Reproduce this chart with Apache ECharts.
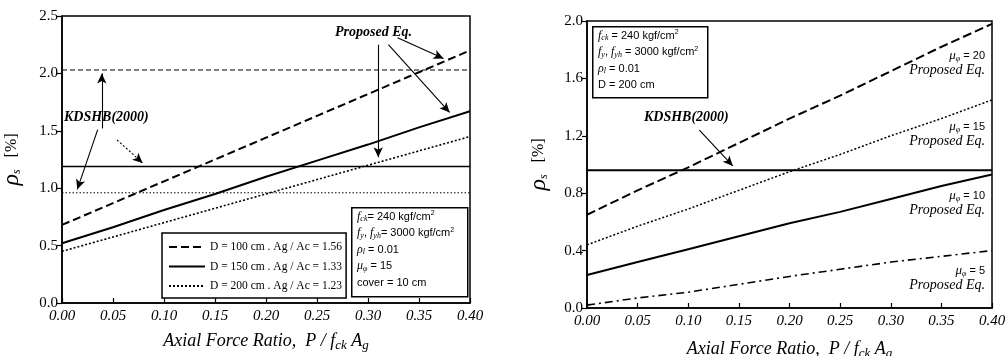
<!DOCTYPE html>
<html><head><meta charset="utf-8">
<script src="https://cdn.jsdelivr.net/npm/echarts@6/dist/echarts.min.js"></script>
<style>html,body{margin:0;padding:0;background:#fff}#c{width:1007px;height:356px}</style>
</head><body><div id="c"></div>
<script>
// ---- data ----
const xRatio = [0.00, 0.05, 0.10, 0.15, 0.20, 0.25, 0.30, 0.35, 0.40];
const xTicks = ['0.00','0.05','0.10','0.15','0.20','0.25','0.30','0.35','0.40'];
// left panel: proposed equation, mu_phi = 15
const d100 = [0.68, 0.87, 1.06, 1.25, 1.44, 1.63, 1.82, 2.01, 2.20];
const d150 = [0.52, 0.66, 0.81, 0.95, 1.10, 1.24, 1.38, 1.53, 1.67];
const d200 = [0.45, 0.575, 0.70, 0.825, 0.95, 1.075, 1.20, 1.325, 1.45];
// left panel: KDSHB(2000) constant values
const kdshbD100 = 2.03, kdshbD150 = 1.19, kdshbD200 = 0.96;
// right panel: proposed equation, D = 200 cm
const mu20 = [0.65, 0.82, 0.98, 1.15, 1.32, 1.48, 1.65, 1.82, 1.98];
const mu15 = [0.44, 0.57, 0.69, 0.82, 0.95, 1.07, 1.20, 1.32, 1.45];
const mu10 = [0.23, 0.32, 0.41, 0.50, 0.59, 0.67, 0.76, 0.85, 0.93];
const mu5  = [0.02, 0.07, 0.11, 0.165, 0.22, 0.27, 0.32, 0.36, 0.40];
const kdshbRight = 0.96;
const legendNames = ['D = 100 cm . Ag / Ac = 1.56', 'D = 150 cm . Ag / Ac = 1.33', 'D = 200 cm . Ag / Ac = 1.23'];

const SERIF = '"Liberation Serif","DejaVu Serif",serif';
const SANS = '"Liberation Sans","DejaVu Sans",sans-serif';
const pairs = ys => xRatio.map((x, i) => [x, ys[i]]);
const flat = v => [[xRatio[0], v], [xRatio[xRatio.length - 1], v]];

const chart = echarts.init(document.getElementById('c'));

function xAxisCfg(gi, gap) {
  return {
    gridIndex: gi, type: 'value', min: 0, max: 0.4, interval: 0.05,
    axisLine: {lineStyle: {color: '#000', width: 1.5}},
    axisTick: {inside: true, length: 5, lineStyle: {color: '#000', width: 1.2}},
    splitLine: {show: false},
    axisLabel: {color: '#000', fontFamily: SERIF, fontStyle: 'italic', fontSize: 15, margin: 6,
      formatter: v => xTicks[Math.round(v / 0.05)]},
    name: '{n|Axial Force Ratio,  P / f}{sub|ck}{n| A}{sub|g}',
    nameLocation: 'middle', nameGap: gap,
    nameTextStyle: {rich: {
      n: {fontFamily: SERIF, fontStyle: 'italic', fontSize: 18, color: '#000'},
      sub: {fontFamily: SERIF, fontStyle: 'italic', fontSize: 13, color: '#000', verticalAlign: 'bottom', padding: [8, 0, 0, 0]}
    }}
  };
}
function yAxisCfg(gi, max, interval, gap) {
  return {
    gridIndex: gi, type: 'value', min: 0, max: max, interval: interval,
    axisLine: {lineStyle: {color: '#000', width: 1.5}},
    axisTick: {inside: false, length: 5, lineStyle: {color: '#000', width: 1.2}},
    splitLine: {show: false},
    axisLabel: {color: '#000', fontFamily: SERIF, fontSize: 15, margin: 4, formatter: v => v.toFixed(1)},
    name: '{r|ρ}{s|s}{n|   [%]}', nameLocation: 'middle', nameGap: gap, nameRotate: 90,
    nameTextStyle: {rich: {
      r: {fontFamily: SERIF, fontStyle: 'italic', fontSize: 24, color: '#000'},
      s: {fontFamily: SERIF, fontStyle: 'italic', fontSize: 12, color: '#000', padding: [10, 0, 0, 0]},
      n: {fontFamily: SERIF, fontSize: 16, color: '#000'}
    }}
  };
}
function line(name, gi, data, width, type) {
  return {name, type: 'line', xAxisIndex: gi, yAxisIndex: gi, data, symbol: 'none', silent: true,
    lineStyle: {color: '#000', width, type}, itemStyle: {color: '#000'}, z: 3};
}
function arrows(gi, segs, type) {
  return {type: 'line', xAxisIndex: gi, yAxisIndex: gi, data: [], silent: true,
    markLine: {silent: true, symbol: ['none', 'arrow'], symbolSize: [7, 10], label: {show: false},
      lineStyle: {color: '#000', width: 1.1, type: type || 'solid'},
      data: segs.map(s => [{coord: s[0]}, {coord: s[1]}])}};
}

function paramBox(x, y, w, h, lines, lh) {
  const rich = {
    t: {fontFamily: SANS, fontSize: 11, color: '#000', lineHeight: lh},
    i: {fontFamily: SERIF, fontStyle: 'italic', fontSize: 12, color: '#000', lineHeight: lh},
    b: {fontFamily: SERIF, fontStyle: 'italic', fontSize: 8, color: '#000', lineHeight: lh, padding: [5, 0, 0, 0]},
    sup: {fontFamily: SANS, fontSize: 7, color: '#000', lineHeight: lh, padding: [0, 0, 6, 0]}
  };
  return [{type: 'rect', left: x, top: y, shape: {width: w, height: h}, style: {fill: '#fff', stroke: '#000', lineWidth: 1.5}, z: 10},
    {type: 'text', left: x + 6, top: y + 3, z: 11, style: {text: lines.join('\n'), rich}}];
}

const muLabel = (x, y, n) => ({type: 'text', z: 11, x: x, y: y, style: {
  text: '{m|μ}{p|φ}{t| = ' + n + '}\n{e|Proposed Eq.}', align: 'right', verticalAlign: 'top',
  rich: {
    m: {fontFamily: SERIF, fontStyle: 'italic', fontSize: 13, color: '#000', lineHeight: 15},
    p: {fontFamily: SERIF, fontStyle: 'italic', fontSize: 8, color: '#000', padding: [6, 0, 0, 0], lineHeight: 15},
    t: {fontFamily: SANS, fontSize: 11, color: '#000', lineHeight: 15},
    e: {fontFamily: SERIF, fontStyle: 'italic', fontSize: 14, color: '#000', lineHeight: 15}
  }}});

chart.setOption({
  backgroundColor: '#fff',
  animation: false,
  grid: [
    {left: 62, right: 537, top: 16, bottom: 53, show: true, borderColor: '#000', borderWidth: 1.5, containLabel: false, outerBoundsMode: 'none'},
    {left: 587, right: 15, top: 21, bottom: 48, show: true, borderColor: '#000', borderWidth: 1.5, containLabel: false, outerBoundsMode: 'none'}
  ],
  xAxis: [xAxisCfg(0, 28), xAxisCfg(1, 31)],
  yAxis: [yAxisCfg(0, 2.5, 0.5, 38), yAxisCfg(1, 2.0, 0.4, 36)],
  legend: {
    data: legendNames, left: 162, top: 233, orient: 'vertical', selectedMode: false,
    backgroundColor: '#fff', borderColor: '#000', borderWidth: 1.5, padding: [8, 4, 6, 6],
    itemWidth: 36, itemHeight: 12, itemGap: 7.5,
    itemStyle: {opacity: 0},
    textStyle: {fontFamily: SERIF, fontSize: 11.5, color: '#000'}
  },
  series: [
    line(legendNames[0], 0, pairs(d100), 2, [8, 4]),
    line(legendNames[1], 0, pairs(d150), 2, 'solid'),
    line(legendNames[2], 0, pairs(d200), 1.6, [2, 2]),
    line('KDSHB D100', 0, flat(kdshbD100), 1.1, [5, 3]),
    line('KDSHB D150', 0, flat(kdshbD150), 1.5, 'solid'),
    line('KDSHB D200', 0, flat(kdshbD200), 1, [1.5, 2]),
    line('mu20', 1, pairs(mu20), 2, [9, 4]),
    line('mu15', 1, pairs(mu15), 1.5, [2, 2]),
    line('mu10', 1, pairs(mu10), 2, 'solid'),
    line('mu5', 1, pairs(mu5), 1.6, [8, 4, 2, 4]),
    line('KDSHB right', 1, flat(kdshbRight), 2, 'solid'),
    arrows(0, [
      [[0.329, 2.31], [0.374, 2.13]],
      [[0.320, 2.25], [0.380, 1.66]],
      [[0.310, 2.25], [0.310, 1.27]],
      [[0.039, 1.52], [0.039, 2.00]],
      [[0.035, 1.51], [0.015, 0.99]]
    ]),
    arrows(0, [[[0.054, 1.42], [0.079, 1.22]]], [2, 2]),
    arrows(1, [[[0.111, 1.24], [0.144, 0.99]]])
  ],
  graphic: [
    {type: 'text', z: 11, left: 335, top: 25, style: {text: 'Proposed Eq.', fontFamily: SERIF, fontStyle: 'italic', fontWeight: 'bold', fontSize: 14, fill: '#000'}},
    {type: 'text', z: 11, left: 64, top: 110, style: {text: 'KDSHB(2000)', fontFamily: SERIF, fontStyle: 'italic', fontWeight: 'bold', fontSize: 14, fill: '#000'}},
    {type: 'text', z: 11, left: 644, top: 110, style: {text: 'KDSHB(2000)', fontFamily: SERIF, fontStyle: 'italic', fontWeight: 'bold', fontSize: 14, fill: '#000'}},
    ...paramBox(351, 207, 116, 89, [
      '{i|f}{b|ck}{t|= 240 kgf/cm}{sup|2}',
      '{i|f}{b|y}{t|, }{i|f}{b|yh}{t|= 3000 kgf/cm}{sup|2}',
      '{i|ρ}{b|l}{t| = 0.01}',
      '{i|μ}{b|φ}{t| = 15}',
      '{t|cover = 10 cm}'
    ], 16.5),
    ...paramBox(592, 26, 115, 71, [
      '{i|f}{b|ck}{t| = 240 kgf/cm}{sup|2}',
      '{i|f}{b|y}{t|, }{i|f}{b|yh}{t| = 3000 kgf/cm}{sup|2}',
      '{i|ρ}{b|l}{t| = 0.01}',
      '{t|D = 200 cm}'
    ], 16.5),
    muLabel(985, 48, 20),
    muLabel(985, 119, 15),
    muLabel(985, 188, 10),
    muLabel(985, 263, 5)
  ]
});
</script></body></html>
